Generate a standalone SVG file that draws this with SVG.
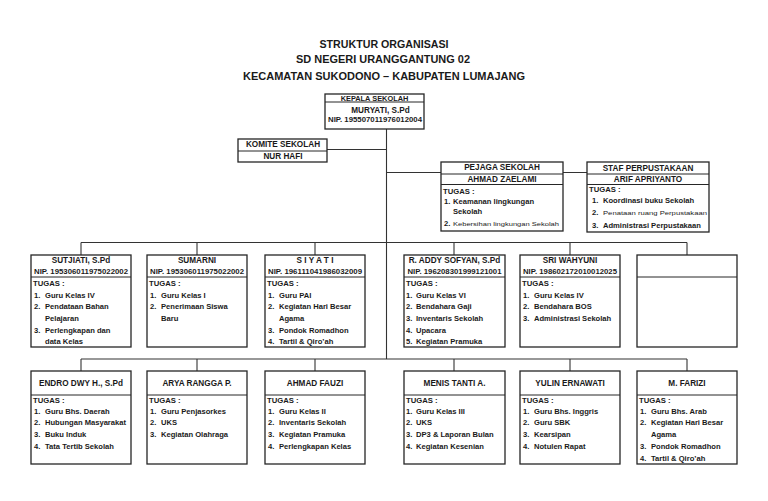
<svg xmlns="http://www.w3.org/2000/svg" width="768" height="501" viewBox="0 0 768 501">
<style>
.bg{fill:#ffffff}
.box{fill:#ffffff;stroke:#262626;stroke-width:1.3}
.dv{stroke:#262626;stroke-width:1}
.ln{stroke:#333333;stroke-width:1.1;fill:none}
text{font-family:"Liberation Sans",Arial,sans-serif;fill:#1a1a1a}
.ti{font-size:11px;font-weight:bold;text-anchor:middle}
.h{font-size:8.2px;font-weight:bold;text-anchor:middle}
.hk{font-size:7.4px;font-weight:bold;text-anchor:middle}
.nip{font-size:7.2px;font-weight:bold;text-anchor:middle}
.tg{font-size:7.7px;font-weight:bold}
.it{font-size:7.6px;font-weight:bold}
.sm{font-size:6px}
</style>
<rect class="bg" x="0" y="0" width="768" height="501"/>

<g id="title">
<text class="ti" x="384" y="48" textLength="129" lengthAdjust="spacingAndGlyphs">STRUKTUR ORGANISASI</text>
<text class="ti" x="383" y="63" textLength="174" lengthAdjust="spacingAndGlyphs">SD NEGERI URANGGANTUNG 02</text>
<text class="ti" x="384" y="79.5" textLength="282" lengthAdjust="spacingAndGlyphs">KECAMATAN SUKODONO – KABUPATEN LUMAJANG</text>
</g>

<g id="connectors">
<line class="ln" x1="386.5" y1="128" x2="386.5" y2="359"/>
<line class="ln" x1="327" y1="149.5" x2="386.5" y2="149.5"/>
<line class="ln" x1="386.5" y1="172.5" x2="587" y2="172.5"/>
<line class="ln" x1="81" y1="242.5" x2="687" y2="242.5"/>
<line class="ln" x1="81" y1="242.5" x2="81" y2="255"/>
<line class="ln" x1="197" y1="242.5" x2="197" y2="255"/>
<line class="ln" x1="315" y1="242.5" x2="315" y2="255"/>
<line class="ln" x1="454" y1="242.5" x2="454" y2="255"/>
<line class="ln" x1="570" y1="242.5" x2="570" y2="255"/>
<line class="ln" x1="687" y1="242.5" x2="687" y2="255"/>
<line class="ln" x1="81" y1="359" x2="687" y2="359"/>
<line class="ln" x1="81" y1="359" x2="81" y2="371"/>
<line class="ln" x1="197" y1="359" x2="197" y2="371"/>
<line class="ln" x1="315" y1="359" x2="315" y2="371"/>
<line class="ln" x1="454" y1="359" x2="454" y2="371"/>
<line class="ln" x1="570" y1="359" x2="570" y2="371"/>
<line class="ln" x1="687" y1="359" x2="687" y2="371"/>
</g>

<g id="kepala">
<rect class="box" x="325" y="94" width="99" height="35"/>
<line class="dv" x1="325" y1="102" x2="424" y2="102"/>
<text class="hk" x="374.5" y="100.5">KEPALA SEKOLAH</text>
<text class="h" x="380.5" y="112.8">MURYATI, S.Pd</text>
<text class="nip" x="375" y="122" textLength="94" lengthAdjust="spacingAndGlyphs">NIP. 195507011976012004</text>
</g>

<g id="komite">
<rect class="box" x="238" y="139" width="89" height="23"/>
<line class="dv" x1="238" y1="151" x2="327" y2="151"/>
<text class="h" x="283" y="147.3">KOMITE SEKOLAH</text>
<text class="h" x="283" y="159">NUR HAFI</text>
</g>

<g id="pejaga">
<rect class="box" x="441" y="162" width="122" height="69"/>
<line class="dv" x1="441" y1="174" x2="563" y2="174"/>
<line class="dv" x1="441" y1="184.5" x2="563" y2="184.5"/>
<text class="h" x="502" y="170.3">PEJAGA SEKOLAH</text>
<text class="h" x="502" y="182.2">AHMAD ZAELAMI</text>
<text class="tg" x="443" y="193.7">TUGAS :</text>
<text class="it" x="444" y="204.4">1.</text><text class="it" x="453" y="204.4">Keamanan lingkungan</text>
<text class="it" x="453" y="214.4">Sekolah</text>
<text class="it" x="444" y="226">2.</text><text class="sm" x="453" y="225.5" textLength="106" lengthAdjust="spacingAndGlyphs">Kebersihan lingkungan Sekolah</text>
</g>

<g id="staf">
<rect class="box" x="587" y="162" width="122" height="70"/>
<line class="dv" x1="587" y1="174" x2="709" y2="174"/>
<line class="dv" x1="587" y1="184.5" x2="709" y2="184.5"/>
<text class="h" x="648" y="171">STAF PERPUSTAKAAN</text>
<text class="h" x="648" y="182.2">ARIF APRIYANTO</text>
<text class="tg" x="589" y="192">TUGAS :</text>
<text class="it" x="592" y="202.7">1.</text><text class="it" x="603" y="202.7">Koordinasi buku Sekolah</text>
<text class="it" x="592" y="215.4">2.</text><text class="sm" x="603" y="214.8" textLength="104" lengthAdjust="spacingAndGlyphs">Penataan ruang Perpustakaan</text>
<text class="it" x="592" y="227.7">3.</text><text class="it" x="603" y="227.7">Administrasi Perpustakaan</text>
</g>

<g id="sutjiati">
<rect class="box" x="31" y="255" width="100" height="92"/>
<line class="dv" x1="31" y1="277" x2="131" y2="277"/>
<text class="h" x="81" y="263">SUTJIATI, S.Pd</text>
<text class="nip" x="81" y="273.5" textLength="94" lengthAdjust="spacingAndGlyphs">NIP. 195306011975022002</text>
<text class="tg" x="33" y="285.5">TUGAS :</text>
<text class="it" x="34" y="297.7">1.</text><text class="it" x="45" y="297.7">Guru Kelas IV</text>
<text class="it" x="34" y="309.3">2.</text><text class="it" x="45" y="309.3">Pendataan Bahan</text>
<text class="it" x="45" y="320.9">Pelajaran</text>
<text class="it" x="34" y="332.5">3.</text><text class="it" x="45" y="332.5">Perlengkapan dan</text>
<text class="it" x="45" y="344">data Kelas</text>
</g>

<g id="sumarni">
<rect class="box" x="147" y="255" width="100" height="92"/>
<line class="dv" x1="147" y1="277" x2="247" y2="277"/>
<text class="h" x="197" y="263">SUMARNI</text>
<text class="nip" x="197" y="273.5" textLength="94" lengthAdjust="spacingAndGlyphs">NIP. 195306011975022002</text>
<text class="tg" x="149" y="285.5">TUGAS :</text>
<text class="it" x="150" y="297.7">1.</text><text class="it" x="161" y="297.7">Guru Kelas I</text>
<text class="it" x="150" y="309.3">2.</text><text class="it" x="161" y="309.3">Penerimaan Siswa</text>
<text class="it" x="161" y="320.9">Baru</text>
</g>

<g id="siyati">
<rect class="box" x="265" y="255" width="100" height="92"/>
<line class="dv" x1="265" y1="277" x2="365" y2="277"/>
<text class="h" x="315" y="263">S I Y A T I</text>
<text class="nip" x="315" y="273.5" textLength="94" lengthAdjust="spacingAndGlyphs">NIP. 196111041986032009</text>
<text class="tg" x="267" y="285.5">TUGAS :</text>
<text class="it" x="268" y="297.7">1.</text><text class="it" x="279" y="297.7">Guru PAI</text>
<text class="it" x="268" y="309.3">2.</text><text class="it" x="279" y="309.3">Kegiatan Hari Besar</text>
<text class="it" x="279" y="320.9">Agama</text>
<text class="it" x="268" y="332.5">3.</text><text class="it" x="279" y="332.5">Pondok Romadhon</text>
<text class="it" x="268" y="344">4.</text><text class="it" x="279" y="344">Tartil &amp; Qiro’ah</text>
</g>

<g id="addy">
<rect class="box" x="404" y="255" width="101" height="92"/>
<line class="dv" x1="404" y1="277" x2="505" y2="277"/>
<text class="h" x="454.5" y="263">R. ADDY SOFYAN, S.Pd</text>
<text class="nip" x="454.5" y="273.5" textLength="94" lengthAdjust="spacingAndGlyphs">NIP. 196208301999121001</text>
<text class="tg" x="406" y="285.5">TUGAS :</text>
<text class="it" x="406" y="297.7">1.</text><text class="it" x="416" y="297.7">Guru Kelas VI</text>
<text class="it" x="406" y="309.3">2.</text><text class="it" x="416" y="309.3">Bendahara Gaji</text>
<text class="it" x="406" y="320.9">3.</text><text class="it" x="416" y="320.9">Inventaris Sekolah</text>
<text class="it" x="406" y="332.5">4.</text><text class="it" x="416" y="332.5">Upacara</text>
<text class="it" x="406" y="344">5.</text><text class="it" x="416" y="344">Kegiatan Pramuka</text>
</g>

<g id="sriwahyuni">
<rect class="box" x="520" y="255" width="100" height="92"/>
<line class="dv" x1="520" y1="277" x2="620" y2="277"/>
<text class="h" x="570" y="263">SRI WAHYUNI</text>
<text class="nip" x="570" y="273.5" textLength="94" lengthAdjust="spacingAndGlyphs">NIP. 198602172010012025</text>
<text class="tg" x="522" y="285.5">TUGAS :</text>
<text class="it" x="523" y="297.7">1.</text><text class="it" x="534" y="297.7">Guru Kelas IV</text>
<text class="it" x="523" y="309.3">2.</text><text class="it" x="534" y="309.3">Bendahara BOS</text>
<text class="it" x="523" y="320.9">3.</text><text class="it" x="534" y="320.9">Administrasi Sekolah</text>
</g>

<g id="kosong">
<rect class="box" x="637" y="255" width="100" height="92"/>
<line class="dv" x1="637" y1="277" x2="737" y2="277"/>
</g>

<g id="endro">
<rect class="box" x="31" y="371" width="100" height="93"/>
<line class="dv" x1="31" y1="395" x2="131" y2="395"/>
<text class="h" x="81" y="386.2">ENDRO DWY H., S.Pd</text>
<text class="tg" x="33" y="403.4">TUGAS :</text>
<text class="it" x="34" y="413.7">1.</text><text class="it" x="45" y="413.7">Guru Bhs. Daerah</text>
<text class="it" x="34" y="425.4">2.</text><text class="it" x="45" y="425.4">Hubungan Masyarakat</text>
<text class="it" x="34" y="437">3.</text><text class="it" x="45" y="437">Buku Induk</text>
<text class="it" x="34" y="448.7">4.</text><text class="it" x="45" y="448.7">Tata Tertib Sekolah</text>
</g>

<g id="arya">
<rect class="box" x="147" y="371" width="100" height="93"/>
<line class="dv" x1="147" y1="395" x2="247" y2="395"/>
<text class="h" x="197" y="386.2">ARYA RANGGA P.</text>
<text class="tg" x="149" y="403.4">TUGAS :</text>
<text class="it" x="150" y="413.7">1.</text><text class="it" x="161" y="413.7">Guru Penjasorkes</text>
<text class="it" x="150" y="425.4">2.</text><text class="it" x="161" y="425.4">UKS</text>
<text class="it" x="150" y="437">3.</text><text class="it" x="161" y="437">Kegiatan Olahraga</text>
</g>

<g id="fauzi">
<rect class="box" x="265" y="371" width="100" height="93"/>
<line class="dv" x1="265" y1="395" x2="365" y2="395"/>
<text class="h" x="315" y="386.2">AHMAD FAUZI</text>
<text class="tg" x="267" y="403.4">TUGAS :</text>
<text class="it" x="268" y="413.7">1.</text><text class="it" x="279" y="413.7">Guru Kelas II</text>
<text class="it" x="268" y="425.4">2.</text><text class="it" x="279" y="425.4">Inventaris Sekolah</text>
<text class="it" x="268" y="437">3.</text><text class="it" x="279" y="437">Kegiatan Pramuka</text>
<text class="it" x="268" y="448.7">4.</text><text class="it" x="279" y="448.7">Perlengkapan Kelas</text>
</g>

<g id="menis">
<rect class="box" x="404" y="371" width="101" height="93"/>
<line class="dv" x1="404" y1="395" x2="505" y2="395"/>
<text class="h" x="454.5" y="386.2">MENIS TANTI A.</text>
<text class="tg" x="406" y="403.4">TUGAS :</text>
<text class="it" x="406" y="413.7">1.</text><text class="it" x="416" y="413.7">Guru Kelas III</text>
<text class="it" x="406" y="425.4">2.</text><text class="it" x="416" y="425.4">UKS</text>
<text class="it" x="406" y="437">3.</text><text class="it" x="416" y="437">DP3 &amp; Laporan Bulan</text>
<text class="it" x="406" y="448.7">4.</text><text class="it" x="416" y="448.7">Kegiatan Kesenian</text>
</g>

<g id="yulin">
<rect class="box" x="520" y="371" width="100" height="93"/>
<line class="dv" x1="520" y1="395" x2="620" y2="395"/>
<text class="h" x="570" y="386.2">YULIN ERNAWATI</text>
<text class="tg" x="522" y="403.4">TUGAS :</text>
<text class="it" x="523" y="413.7">1.</text><text class="it" x="534" y="413.7">Guru Bhs. Inggris</text>
<text class="it" x="523" y="425.4">2.</text><text class="it" x="534" y="425.4">Guru SBK</text>
<text class="it" x="523" y="437">3.</text><text class="it" x="534" y="437">Kearsipan</text>
<text class="it" x="523" y="448.7">4.</text><text class="it" x="534" y="448.7">Notulen Rapat</text>
</g>

<g id="farizi">
<rect class="box" x="637" y="371" width="100" height="93"/>
<line class="dv" x1="637" y1="395" x2="737" y2="395"/>
<text class="h" x="687" y="386.2">M. FARIZI</text>
<text class="tg" x="639" y="403.4">TUGAS :</text>
<text class="it" x="640" y="414.4">1.</text><text class="it" x="651" y="414.4">Guru Bhs. Arab</text>
<text class="it" x="640" y="425.4">2.</text><text class="it" x="651" y="425.4">Kegiatan Hari Besar</text>
<text class="it" x="651" y="437.4">Agama</text>
<text class="it" x="640" y="448.7">3.</text><text class="it" x="651" y="448.7">Pondok Romadhon</text>
<text class="it" x="640" y="460.7">4.</text><text class="it" x="651" y="460.7">Tartil &amp; Qiro’ah</text>
</g>
</svg>
